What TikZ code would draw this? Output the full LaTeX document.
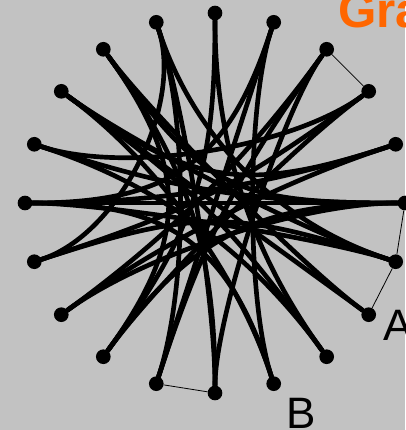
\documentclass[tikz,border=0pt]{standalone}
\usepackage{fontspec}
\setmainfont{Liberation Sans}
\definecolor{bggray}{RGB}{194,194,194}
\definecolor{titleorange}{RGB}{255,102,0}
\tikzset{
  dot/.style={circle, fill=black, inner sep=0pt, minimum size=11pt},
  link/.style={line width=3.5pt, line cap=round},
  thinlink/.style={line width=0.6pt},
  letter/.style={font=\fontsize{33}{33}\selectfont, inner sep=0pt, anchor=base west}
}
\begin{document}
\begin{tikzpicture}[x=0.75pt, y=0.75pt]
    % --- tlo ---
    \fill[bggray] (-215,-227) rectangle (190,203);
    \useasboundingbox (-215,-227) rectangle (190,203);
    % --- wierzcholki na okregu ---
    \foreach \i in {1,...,20} {
      \node[dot] (n\i) at ({90-18*(\i-1)}:190) {};
    }
    % --- krawedzie grube ---
    \foreach \a/\b/\l in {1/9/0.9, 1/13/1.1, 2/12/0.7, 2/16/1.2, 2/10/0.6, 3/14/0.9,
                          3/11/0.5, 3/12/1.0, 4/15/1.1, 4/17/0.7, 4/13/0.6, 5/16/0.9,
                          5/18/1.2, 5/14/0.8, 6/17/1.0, 6/19/1.3, 6/14/0.7, 6/16/0.3,
                          6/13/1.1, 7/18/0.6, 7/20/0.9, 7/15/1.2, 8/19/0.5, 9/18/1.1,
                          10/18/0.8, 10/16/1.2, 11/19/1.0, 11/20/0.6, 12/20/0.7,
                          13/19/1.2, 15/20/0.8, 16/7/0.5, 17/9/0.9, 18/8/1.0} {
      \pgfmathsetmacro\oa{270-18*(\a-1)}
      \pgfmathsetmacro\ob{270-18*(\b-1)}
      \draw[link] (n\a) to[out=\oa, in=\ob, looseness=\l] (n\b);
    }
    % --- krawedzie cienkie ---
    \draw[thinlink] (n3) -- (n4);
    \draw[thinlink] (n6) -- (n7);
    \draw[thinlink] (n7) -- (n8);
    \draw[thinlink] (n11) -- (n12);
    % --- etykiety ---
    \node[letter] (labA) at (168,-137) {A};
    \node[letter] (labB) at (71,-225) {B};
    \node[letter, font=\fontsize{37}{37}\selectfont\bfseries, text=titleorange] (title) at (123,176) {Gra};
\end{tikzpicture}
\end{document}
